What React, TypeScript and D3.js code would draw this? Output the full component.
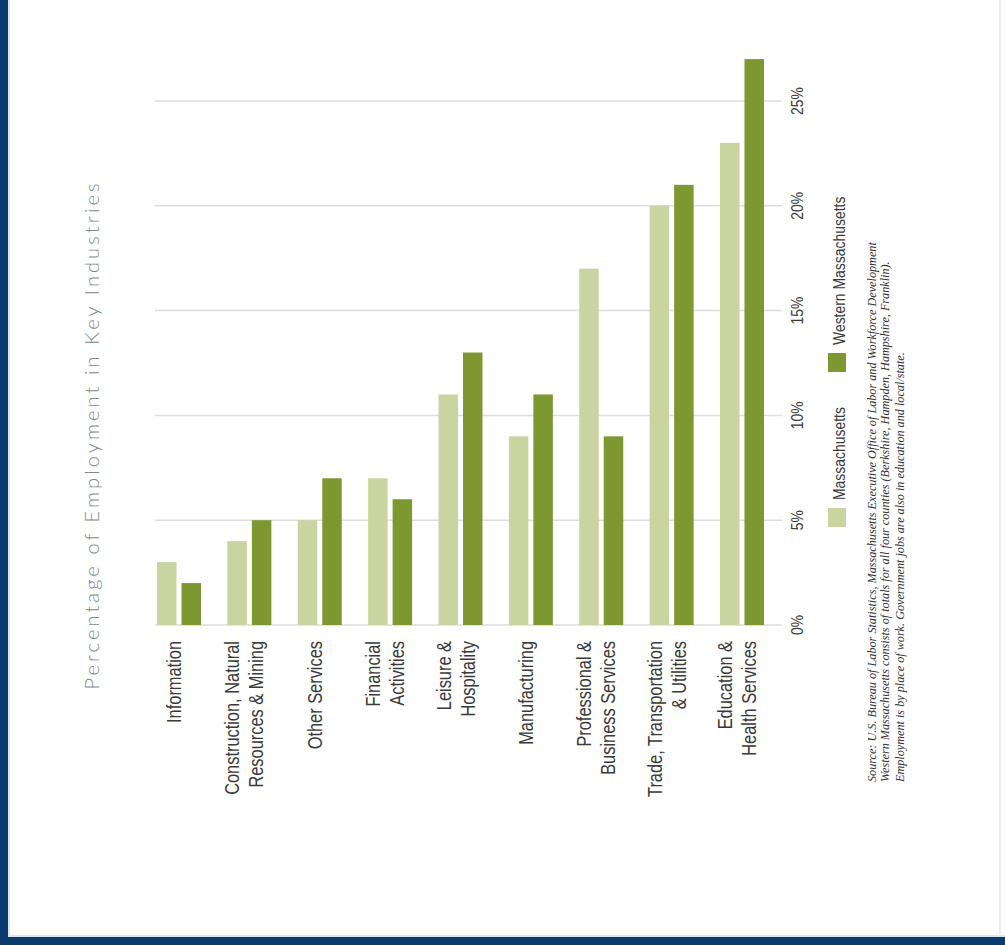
import React from "react";
import * as d3 from "d3";

const categories = [
  "Information",
  "Construction, Natural\nResources & Mining",
  "Other Services",
  "Financial\nActivities",
  "Leisure &\nHospitality",
  "Manufacturing",
  "Professional &\nBusiness Services",
  "Trade, Transportation\n& Utilities",
  "Education &\nHealth Services",
];
const seriesNames = ["Massachusetts", "Western Massachusetts"];
const massachusetts = [3, 4, 5, 7, 11, 9, 17, 20, 23];
const westernMassachusetts = [2, 5, 7, 6, 13, 11, 9, 21, 27];
const tickValues = [0, 5, 10, 15, 20, 25];
const tickLabels = ["0%", "5%", "10%", "15%", "20%", "25%"];
const title = "Percentage of Employment in Key Industries";
const sourceLines = [
  "Source: U.S. Bureau of Labor Statistics, Massachusetts Executive Office of Labor and Workforce Development",
  "Western Massachusetts consists of totals for all four counties (Berkshire, Hampden, Hampshire, Franklin).",
  "Employment is by place of work. Government jobs are also in education and local/state.",
];

const COLORS = ["#cad4a1", "#7d9831"];
const NAVY = "#0b3b6c";
const NARROW = "'Liberation Sans', Arial, sans-serif";

export default function App() {
  const W = 1005;
  const H = 945;
  const y = d3.scaleLinear().domain([0, 25]).range([625, 101]);
  const x0 = d3
    .scaleBand<number>()
    .domain(d3.range(categories.length))
    .range([157, 764])
    .paddingInner(0.375)
    .paddingOuter(0);
  const x1 = d3
    .scaleBand<number>()
    .domain([0, 1])
    .range([0, x0.bandwidth()])
    .paddingInner(0.204)
    .paddingOuter(0);
  const series = [massachusetts, westernMassachusetts];

  return (
    <svg
      width={W}
      height={H}
      style={{ position: "absolute", left: 0, top: 0, background: "#fff" }}
    >
      <rect x={0} y={0} width={W} height={H} fill="#fff" />
      {/* borders */}
      <rect x={0} y={0} width={8} height={H} fill={NAVY} />
      <rect x={8} y={0} width={2} height={936} fill="#d6e8f4" />
      <rect x={0} y={937} width={W} height={8} fill={NAVY} />
      <rect x={8} y={935} width={W} height={2} fill="#d6e8f4" />
      <rect x={999} y={0} width={2} height={937} fill="#ececec" />

      {/* title */}
      <text
        transform={`translate(99,435) rotate(-90)`}
        textAnchor="middle"
        fontFamily="Lato, 'Open Sans', sans-serif"
        fontWeight={300}
        fontSize={20}
        letterSpacing={3.1}
        fill="#7a8b86"
      >
        {title}
      </text>

      {/* gridlines */}
      {tickValues.map((t) => (
        <line
          key={t}
          x1={155}
          x2={782}
          y1={y(t)}
          y2={y(t)}
          stroke="#dddddd"
          strokeWidth={1.5}
        />
      ))}

      {/* bars */}
      {categories.map((c, i) =>
        series.map((s, j) => (
          <rect
            key={`${i}-${j}`}
            x={(x0(i) as number) + (x1(j) as number)}
            y={y(s[i])}
            width={x1.bandwidth()}
            height={y(0) - y(s[i])}
            fill={COLORS[j]}
          />
        ))
      )}

      {/* tick labels */}
      {tickValues.map((t, i) => (
        <text
          key={t}
          transform={`translate(803,${y(t)}) rotate(-90) scale(0.82,1)`}
          textAnchor="middle"
          fontFamily={NARROW}
          fontSize={17}
          fill="#3a3a3a"
        >
          {tickLabels[i]}
        </text>
      ))}

      {/* category labels */}
      {categories.map((c, i) => {
        const lines = c.split("\n");
        const cx = (x0(i) as number) + x0.bandwidth() / 2;
        return lines.map((ln, k) => {
          const bx = cx + 2 + (k - (lines.length - 1) / 2) * 24;
          return (
            <text
              key={`${i}-${k}`}
              transform={`translate(${bx},641) rotate(-90) scale(0.82,1)`}
              textAnchor="end"
              fontFamily={NARROW}
              fontSize={20}
              fill="#3a3a3a"
            >
              {ln}
            </text>
          );
        });
      })}

      {/* legend */}
      {seriesNames.map((n, j) => {
        const ys = [527, 372][j];
        return (
          <g key={n}>
            <rect x={828} y={ys - 19} width={18} height={19} fill={COLORS[j]} />
            <text
              transform={`translate(845,${ys - 27}) rotate(-90) scale(0.82,1)`}
              textAnchor="start"
              fontFamily={NARROW}
              fontSize={17}
              fill="#3a3a3a"
            >
              {n}
            </text>
          </g>
        );
      })}

      {/* source notes */}
      {sourceLines.map((s, k) => (
        <text
          key={k}
          transform={`translate(${[876, 889, 904][k]},782) rotate(-90)`}
          textAnchor="start"
          fontFamily="'Liberation Serif', 'DejaVu Serif', serif"
          fontStyle="italic"
          fontSize={12.2}
          fill="#333"
        >
          {s}
        </text>
      ))}
    </svg>
  );
}
